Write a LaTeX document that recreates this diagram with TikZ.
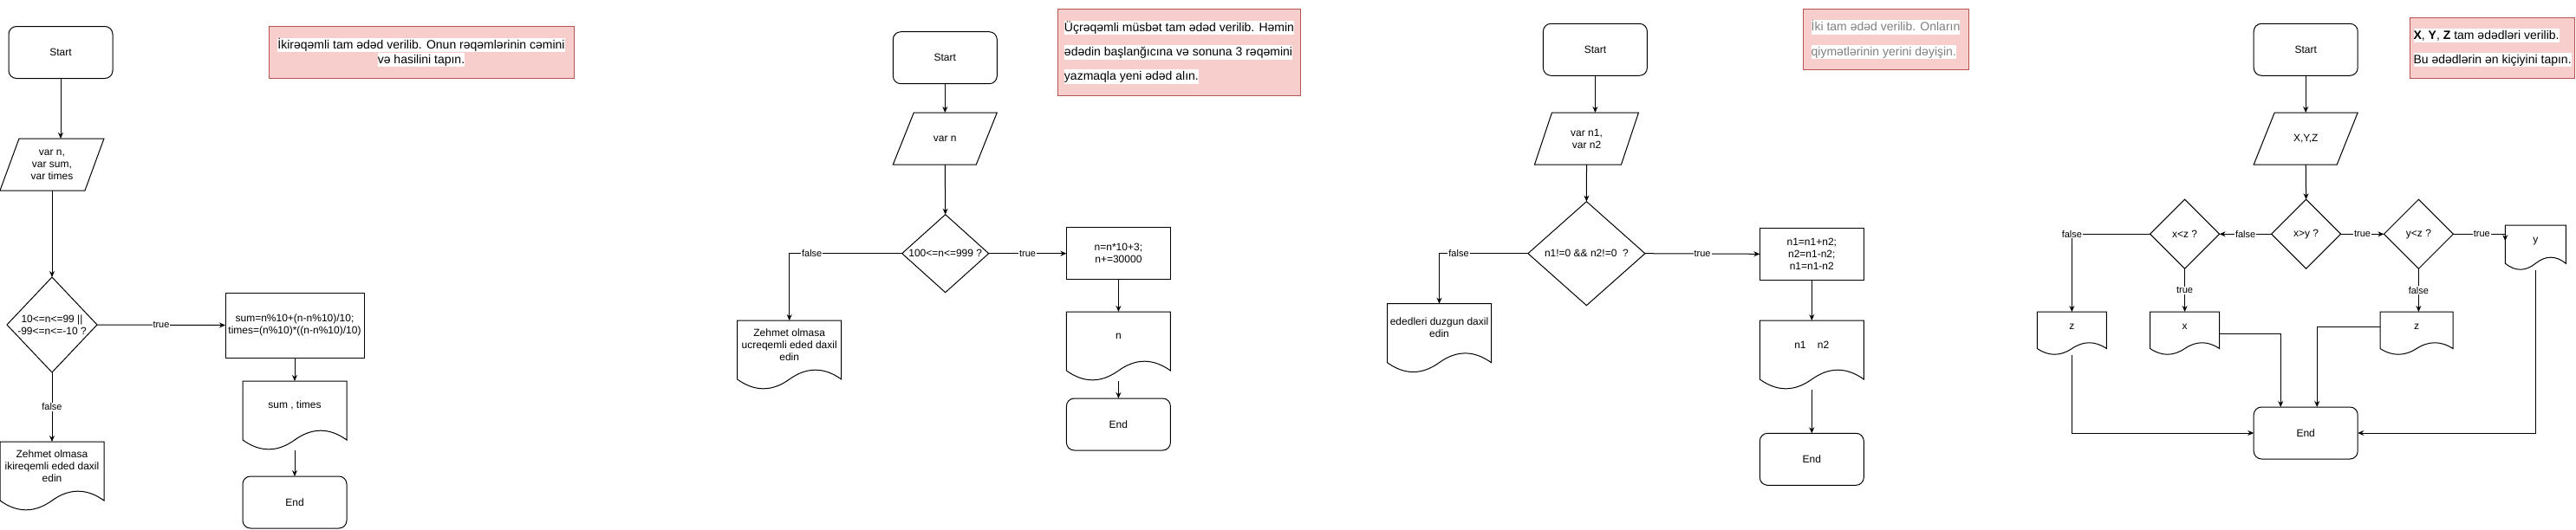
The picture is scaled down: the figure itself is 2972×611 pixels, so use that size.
\documentclass[tikz,border=0pt]{standalone}
\usepackage{fontspec}
\setmainfont{Liberation Sans}
\usepackage{xcolor}
\usepackage{tikz}
\usetikzlibrary{arrows.meta, positioning}
\usetikzlibrary{calc}

\definecolor{taskfill}{HTML}{F8CECC}
\definecolor{taskline}{HTML}{B85450}
\definecolor{taskgrey}{HTML}{808080}

\newcommand{\hlw}[1]{{\setlength{\fboxsep}{0pt}\colorbox{white}{\rule[-4pt]{0pt}{16.5pt}#1}}}
\newcommand{\decshape}[1]{\draw (#1.north) -- (#1.east) -- (#1.south) -- (#1.west) -- cycle;}
\newcommand{\ioshape}[2]{\draw ([xshift=#2pt]#1.north west) -- (#1.north east) -- ([xshift=-#2pt]#1.south east) -- (#1.south west) -- cycle;}
\newcommand{\docshape}[3]{%
  \draw ($(#1.south west)+(0,0.15*#3)$) -- (#1.north west) -- (#1.north east)
    -- ($(#1.south east)+(0,0.15*#3)$)
    .. controls +(-#2/6,-0.18*#3) and +(#2/6,-0.18*#3) .. ($(#1.south)+(0,0.15*#3)$)
    .. controls +(-#2/6,0.18*#3) and +(#2/6,0.18*#3) .. ($(#1.south west)+(0,0.15*#3)$) -- cycle;}

\begin{document}
\begin{tikzpicture}[x=1pt, y=-1pt, line width=1pt, font=\fontsize{12}{14}\selectfont,
  term/.style={draw, rounded corners=9pt, minimum width=120pt, minimum height=60pt, align=center, outer sep=0pt},
  proc/.style={draw, minimum width=120pt, minimum height=60pt, align=center, inner sep=2pt, outer sep=0pt},
  io/.style={minimum width=120pt, minimum height=60pt, align=center, outer sep=0pt},
  dec/.style={minimum width=80pt, minimum height=80pt, align=center, inner sep=0pt, outer sep=0pt},
  doc/.style={minimum width=120pt, minimum height=56pt, align=center, inner sep=2pt, outer sep=0pt},
  task/.style={draw=taskline, fill=taskfill, align=left, inner sep=4pt, outer sep=0pt, font=\fontsize{14}{28.3}\selectfont},
  arr/.style={-{Stealth[length=7pt,width=6pt]}},
  lbl/.style={fill=white, inner sep=1pt, font=\fontsize{11}{13}\selectfont}]
\useasboundingbox (0,0) rectangle (2972,611);

% first chart
\node[term] (start1) at (70,60.5) {Start};
\node[io] (in1) at (60,190) {var n,\\var sum,\\var times};
\ioshape{in1}{22}
\node[dec, minimum width=104pt, minimum height=110pt] (dec1) at (60,375) {10<=n<=99 ||\\-99<=n<=-10 ?};
\decshape{dec1}
\node[proc, minimum width=160pt, minimum height=75pt] (calc1) at (340,375.5) {sum=n\%10+(n-n\%10)/10;\\times=(n\%10)*((n-n\%10)/10)};
\node[doc] (out1) at (340,468) {sum , times};
\docshape{out1}{120}{80}
\node[term] (end1) at (340,580) {End};
\node[doc] (err1) at (60,538) {Zehmet olmasa\\ikireqemli eded daxil\\edin};
\docshape{err1}{120}{80}
\node[task, align=center, minimum width=352pt, minimum height=60pt, font=\fontsize{14}{16.8}\selectfont] (task1) at (486,60.5)
  {\hlw{İkirəqəmli tam ədəd verilib. Onun rəqəmlərinin cəmini}\\\hlw{və hasilini tapın.}};
\draw[arr] (start1.south) -- (start1.south |- in1.north);
\draw[arr] (in1.south) -- (dec1.north);
\draw[arr] (dec1.east) -- node[lbl] {true} (calc1.west);
\draw[arr] (dec1.south) -- node[lbl] {false} (err1.north);
\draw[arr] (calc1.south) -- (out1.north);
\draw[arr] ($(out1.south)+(0,24)$) -- (end1.north);

% second chart
\node[term] (start2) at (1090.3,66.7) {Start};
\node[io] (in2) at (1090.3,160) {var n};
\ioshape{in2}{24}
\node[dec, minimum width=100pt, minimum height=90pt] (dec2) at (1090.7,292.7) {100<=n<=999 ?};
\decshape{dec2}
\node[proc] (calc2) at (1290.4,292.7) {n=n*10+3;\\n+=30000};
\node[doc] (out2) at (1290.4,388) {n};
\docshape{out2}{120}{80}
\node[term] (end2) at (1290.4,490) {End};
\node[doc] (err2) at (910.7,398) {Zehmet olmasa\\ucreqemli eded daxil\\edin};
\docshape{err2}{120}{80}
\node[task, minimum width=280pt, minimum height=100pt] (task2) at (1360.5,60.3)
  {\hlw{Üçrəqəmli müsbət tam ədəd verilib. Həmin}\\\hlw{ədədin başlanğıcına və sonuna 3 rəqəmini}\\\hlw{yazmaqla yeni ədəd alın.}};
\draw[arr] (start2.south) -- (in2.north);
\draw[arr] (in2.south) -- (dec2.north);
\draw[arr] (dec2.east) -- node[lbl] {true} (calc2.west);
\draw[arr] (dec2.west) -| node[lbl, pos=0.4] {false} (err2.north);
\draw[arr] (calc2.south) -- (out2.north);
\draw[arr] ($(out2.south)+(0,24)$) -- (end2.north);

% third chart
\node[term] (start3) at (1840.4,57.3) {Start};
\node[io] (in3) at (1830.5,160) {var n1,\\var n2};
\ioshape{in3}{20}
\node[dec, minimum width=135pt, minimum height=120pt] (dec3) at (1830.4,292.7) {n1!=0 \&\& n2!=0\ \ ?};
\decshape{dec3}
\node[proc] (calc3) at (2090.3,293.3) {n1=n1+n2;\\n2=n1-n2;\\n1=n1-n2};
\node[doc] (out3) at (2090.3,398) {n1\ \ \ \ n2};
\docshape{out3}{120}{80}
\node[term] (end3) at (2090.3,530.3) {End};
\node[doc] (err3) at (1660.5,378.7) {ededleri duzgun daxil\\edin};
\docshape{err3}{120}{80}
\node[task, text=taskgrey, minimum width=191pt, minimum height=70pt] (task3) at (2175.5,45.7)
  {\hlw{İki tam ədəd verilib. Onların}\\\hlw{qiymətlərinin yerini dəyişin.}};
\draw[arr] (start3.south) -- (start3.south |- in3.north);
\draw[arr] (in3.south) -- (dec3.north);
\draw[arr] (dec3.east) -- node[lbl] {true} (calc3.west);
\draw[arr] (dec3.west) -| node[lbl, pos=0.39] {false} (err3.north);
\draw[arr] (calc3.south) -- (out3.north);
\draw[arr] ($(out3.south)+(0,24)$) -- (end3.north);

% fourth chart
\node[term] (start4) at (2660.2,57.3) {Start};
\node[io] (in4) at (2660.2,160) {X,Y,Z};
\ioshape{in4}{24}
\node[dec] (xy) at (2660.6,270.3) {x>y ?};
\decshape{xy}
\node[dec] (xz) at (2520.6,270.3) {x<z ?};
\decshape{xz}
\node[dec] (yz) at (2790.4,270.3) {y<z ?};
\decshape{yz}
\node[doc, minimum width=70pt, minimum height=36.4pt] (docy) at (2925.3,278.2) {y};
\docshape{docy}{70}{52}
\node[doc, minimum width=80pt, minimum height=35pt] (docx) at (2520.6,377.5) {x};
\docshape{docx}{80}{50}
\node[doc, minimum width=80pt, minimum height=35pt] (docz1) at (2390.4,377.5) {z};
\docshape{docz1}{80}{50}
\node[doc, minimum width=84pt, minimum height=35pt] (docz2) at (2788,377.5) {z};
\docshape{docz2}{84}{50}
\node[term] (end4) at (2660.2,500) {End};
\node[task, minimum width=190pt, minimum height=70pt] (task4) at (2875.6,55)
  {\hlw{\textbf{X}, \textbf{Y}, \textbf{Z} tam ədədləri verilib.}\\\hlw{Bu ədədlərin ən kiçiyini tapın.}};
\draw[arr] (start4.south) -- (in4.north);
\draw[arr] (in4.south) -- (xy.north);
\draw[arr] (xy.west) -- node[lbl] {false} (xz.east);
\draw[arr] (xy.east) -- node[lbl] {true} (yz.west);
\draw[arr] (yz.east) -- node[lbl, pos=0.55] {true} (yz.east -| docy.west) -- (docy.west);
\draw[arr] (xz.west) -| node[lbl] {false} (docz1.north);
\draw[arr] (xz.south) -- node[lbl] {true} (docx.north);
\draw[arr] (yz.south) -- node[lbl] {false} (yz.south |- docz2.north);
\draw[arr] ($(docz1.south)+(0,15)$) |- (end4.west);
\draw[arr] ($(docx.east)+(0,7.5)$) -| ([xshift=-29pt]end4.north);
\draw[arr] (docz2.west) -| ([xshift=13pt]end4.north);
\draw[arr] ($(docy.south)+(0,15.6)$) |- (end4.east);
\end{tikzpicture}
\end{document}
